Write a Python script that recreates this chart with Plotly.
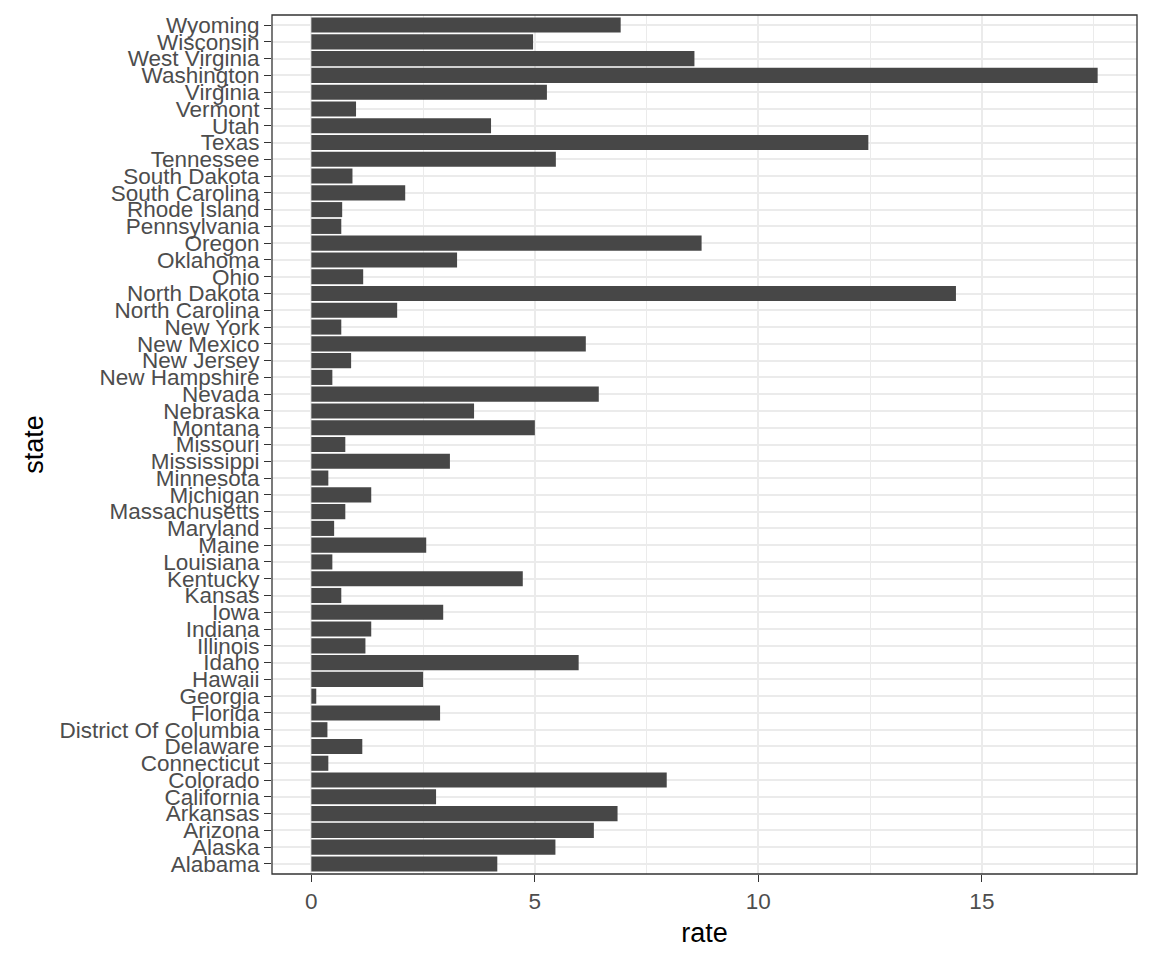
import plotly.graph_objects as go

states = ["Alabama", "Alaska", "Arizona", "Arkansas", "California", "Colorado",
          "Connecticut", "Delaware", "District Of Columbia", "Florida", "Georgia",
          "Hawaii", "Idaho", "Illinois", "Indiana", "Iowa", "Kansas", "Kentucky",
          "Louisiana", "Maine", "Maryland", "Massachusetts", "Michigan", "Minnesota",
          "Mississippi", "Missouri", "Montana", "Nebraska", "Nevada", "New Hampshire",
          "New Jersey", "New Mexico", "New York", "North Carolina", "North Dakota",
          "Ohio", "Oklahoma", "Oregon", "Pennsylvania", "Rhode Island",
          "South Carolina", "South Dakota", "Tennessee", "Texas", "Utah", "Vermont",
          "Virginia", "Washington", "West Virginia", "Wisconsin", "Wyoming"]

rates = [4.16, 5.46, 6.32, 6.85, 2.79, 7.95,
         0.38, 1.14, 0.36, 2.88, 0.11,
         2.50, 5.98, 1.21, 1.34, 2.95, 0.67, 4.73,
         0.47, 2.57, 0.51, 0.76, 1.34, 0.38,
         3.10, 0.76, 5.00, 3.64, 6.43, 0.47,
         0.89, 6.14, 0.67, 1.92, 14.42,
         1.16, 3.26, 8.73, 0.67, 0.69,
         2.10, 0.92, 5.47, 12.46, 4.02, 1.00,
         5.27, 17.59, 8.57, 4.96, 6.92]

x_ticks = [0, 5, 10, 15]
x_minor = [2.5, 7.5, 12.5, 17.5]

fig = go.Figure()
fig.add_trace(go.Bar(
    x=rates, y=states, orientation="h",
    marker=dict(color="#474747", line=dict(width=0)),
    width=0.9,
))

font_family = "Liberation Sans, Arial, sans-serif"
fig.update_layout(
    width=1136, height=944,
    margin=dict(l=264, r=7, t=7, b=78, autoexpand=False),
    plot_bgcolor="white", paper_bgcolor="white",
    showlegend=False,
    font=dict(family=font_family),
    xaxis=dict(
        range=[-0.88, 18.47],
        tickmode="array",
        tickvals=x_ticks, ticktext=[str(v) for v in x_ticks],
        showgrid=True, gridcolor="#EBEBEB", gridwidth=1.6,
        minor=dict(tickvals=x_minor, showgrid=True,
                   gridcolor="#EBEBEB", gridwidth=0.8, ticks=""),
        zeroline=False, automargin=False,
        ticks="outside", ticklen=7, tickwidth=1.4, tickcolor="#333333",
        tickfont=dict(size=22.5, color="#4D4D4D", family=font_family),
        title=dict(text="rate", font=dict(size=27, color="black", family=font_family), standoff=10),
        showline=False,
    ),
    yaxis=dict(
        type="category",
        categoryorder="array", categoryarray=states,
        tickmode="array", tickvals=states, ticktext=states,
        range=[-0.6, len(states) - 0.4],
        showgrid=True, gridcolor="#EBEBEB", gridwidth=1.6,
        zeroline=False, automargin=False,
        ticks="outside", ticklen=7, tickwidth=1.4, tickcolor="#333333",
        tickfont=dict(size=22.5, color="#4D4D4D", family=font_family),
        title=dict(text="state", font=dict(size=27, color="black", family=font_family), standoff=8),
        showline=False,
    ),
    shapes=[dict(type="rect", xref="paper", yref="paper", x0=0, y0=0, x1=1, y1=1,
                 line=dict(color="#333333", width=1.3), fillcolor="rgba(0,0,0,0)", layer="above")],
)

fig.write_html("out.html")
